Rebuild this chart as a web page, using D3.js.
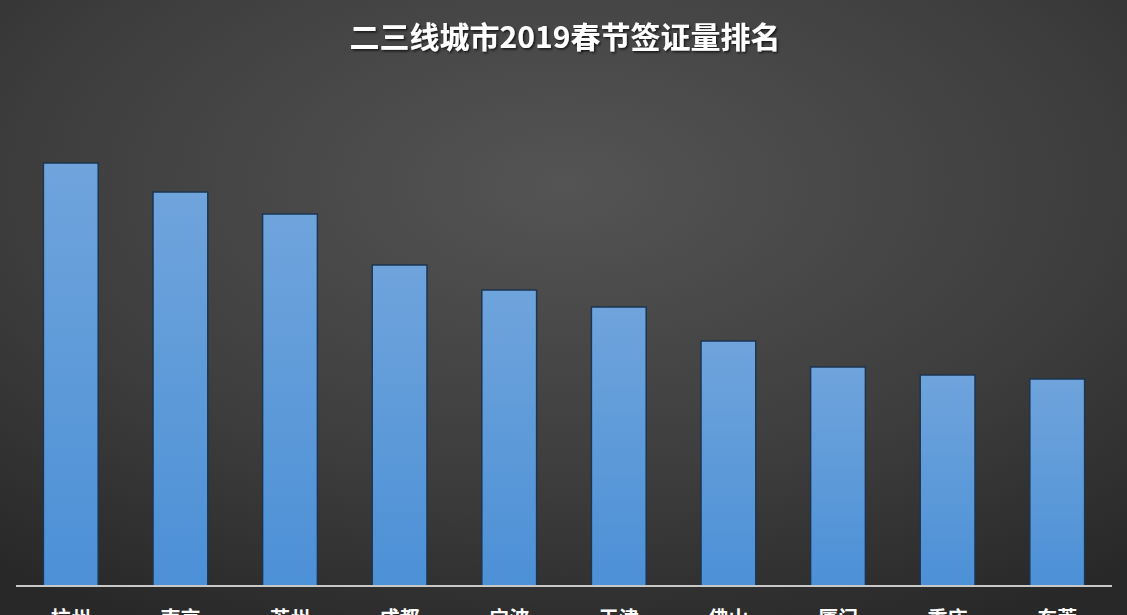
<!DOCTYPE html>
<html><head><meta charset="utf-8">
<script src="https://cdn.jsdelivr.net/npm/d3@7"></script>
<style>html,body{margin:0;padding:0;background:#333;overflow:hidden}</style>
</head><body>
<script>
const categories = ["杭州","南京","苏州","成都","宁波","天津","佛山","厦门","重庆","东莞"];
const values = [423, 394, 372, 321, 296, 279, 245, 219, 211, 207];
const title = "二三线城市2019春节签证量排名";

const W = 1127, H = 615;
const svg = d3.select("body").append("svg").attr("width", W).attr("height", H);
const defs = svg.append("defs");
const bg = defs.append("radialGradient").attr("id","bg").attr("cx","50%").attr("cy","30%").attr("r","80%");
bg.append("stop").attr("offset","0%").attr("stop-color","#545454");
bg.append("stop").attr("offset","60%").attr("stop-color","#3d3d3d");
bg.append("stop").attr("offset","100%").attr("stop-color","#282828");
const bar = defs.append("linearGradient").attr("id","bar").attr("x1",0).attr("y1",0).attr("x2",0).attr("y2",1);
bar.append("stop").attr("offset","0%").attr("stop-color","#6fa4dc");
bar.append("stop").attr("offset","100%").attr("stop-color","#4c90d6");
const sh = defs.append("filter").attr("id","sh");
sh.append("feDropShadow").attr("dx",1.5).attr("dy",1.5).attr("stdDeviation",1.2).attr("flood-color","#000").attr("flood-opacity",0.7);

svg.append("rect").attr("width",W).attr("height",H).attr("fill","url(#bg)");

const x = d3.scaleBand().domain(categories).range([16, 1112]).paddingInner(0.5).paddingOuter(0.25);
const y = d3.scaleLinear().domain([0, 423]).range([586, 163]);

svg.append("g").selectAll("rect").data(values).join("rect")
  .attr("x",(d,i)=>x(categories[i]))
  .attr("y",d=>y(d))
  .attr("width",x.bandwidth())
  .attr("height",d=>y(0)-y(d))
  .attr("fill","url(#bar)")
  .attr("stroke","#1d3550").attr("stroke-width",1.5);

const axis = svg.append("g").attr("transform","translate(0,586)")
  .call(d3.axisBottom(x).tickSize(0).tickPadding(26));
axis.select(".domain").attr("stroke","#c8c8c8").attr("stroke-width",2).attr("d","M16,0H1112");
axis.selectAll("text").attr("fill","#ffffff").attr("font-size",20).attr("font-weight","bold")
  .attr("font-family","'Noto Sans CJK SC', sans-serif");

svg.append("text").attr("x",565).attr("y",48).attr("text-anchor","middle")
  .attr("fill","#ffffff").attr("font-size",30).attr("font-weight","bold")
  .attr("filter","url(#sh)")
  .attr("font-family","'Noto Sans CJK SC', sans-serif").text(title);
</script>
</body></html>
